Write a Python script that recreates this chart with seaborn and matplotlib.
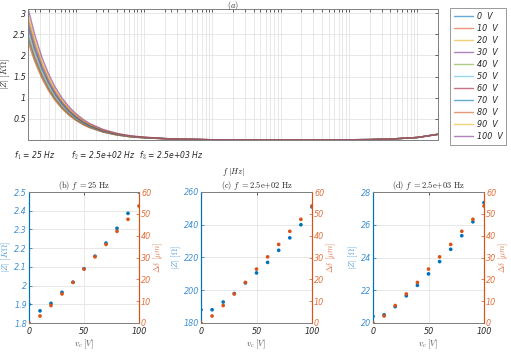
import numpy as np
import pandas as pd
import matplotlib
matplotlib.use("Agg")
import matplotlib.pyplot as plt
import seaborn as sns
from matplotlib.ticker import LogLocator, NullFormatter, FixedLocator, FuncFormatter
from matplotlib.lines import Line2D

sns.set_style("white")
plt.rcParams['font.family'] = ['DejaVu Sans']
plt.rcParams['mathtext.fontset'] = 'cm'

# ---------------- data ----------------
voltages = [0, 10, 20, 30, 40, 50, 60, 70, 80, 90, 100]
legend_labels = ["0  V", "10  V", "20  V", "30  V", "40  V", "50  V",
                 "60  V", "70  V", "80  V", "90  V", "100  V"]

freq_hz = [20, 25, 32, 40, 50, 63, 80, 100, 130, 160, 250, 400, 630, 1000, 2500,
           10000, 1e5, 1e6, 2e6, 4e6, 1e7, 2e7]
# |Z| in kOhm (low-frequency part, per voltage)
z_0V = [2.375, 1.900, 1.484, 1.188, 0.950, 0.754, 0.594, 0.475, 0.365, 0.297, 0.188, 0.118, 0.075, 0.051, 0.0204, 0.005]
z_10V = [2.331, 1.865, 1.457, 1.166, 0.933, 0.740, 0.583, 0.466, 0.358, 0.291, 0.188, 0.118, 0.075, 0.051, 0.0205, 0.005]
z_20V = [2.381, 1.905, 1.488, 1.191, 0.953, 0.756, 0.595, 0.476, 0.366, 0.297, 0.193, 0.121, 0.077, 0.053, 0.0210, 0.005]
z_30V = [2.455, 1.964, 1.534, 1.228, 0.982, 0.780, 0.614, 0.491, 0.377, 0.306, 0.198, 0.124, 0.079, 0.054, 0.0217, 0.005]
z_40V = [2.523, 2.018, 1.576, 1.261, 1.009, 0.801, 0.631, 0.505, 0.387, 0.315, 0.2045, 0.128, 0.081, 0.056, 0.0223, 0.006]
z_50V = [2.613, 2.090, 1.632, 1.306, 1.045, 0.830, 0.653, 0.523, 0.401, 0.326, 0.2106, 0.132, 0.084, 0.058, 0.0230, 0.006]
z_60V = [2.696, 2.157, 1.685, 1.348, 1.079, 0.856, 0.674, 0.539, 0.414, 0.336, 0.217, 0.136, 0.086, 0.059, 0.0238, 0.006]
z_70V = [2.784, 2.227, 1.739, 1.392, 1.114, 0.884, 0.696, 0.557, 0.428, 0.347, 0.2244, 0.140, 0.089, 0.061, 0.0245, 0.006]
z_80V = [2.883, 2.306, 1.801, 1.441, 1.153, 0.915, 0.721, 0.577, 0.443, 0.360, 0.232, 0.145, 0.092, 0.063, 0.0253, 0.006]
z_90V = [2.983, 2.386, 1.863, 1.491, 1.193, 0.947, 0.746, 0.597, 0.458, 0.372, 0.240, 0.150, 0.095, 0.065, 0.0262, 0.007]
z_100V = [3.125, 2.500, 1.953, 1.563, 1.250, 0.993, 0.781, 0.625, 0.480, 0.390, 0.2509, 0.157, 0.100, 0.068, 0.0274, 0.007]
# common high-frequency tail (1e5 ... 2e7 Hz), kOhm
z_tail = [0.003, 0.006, 0.010, 0.022, 0.060, 0.135]

curves = [z_0V, z_10V, z_20V, z_30V, z_40V, z_50V, z_60V, z_70V, z_80V, z_90V, z_100V]

# panel values
z_25hz_kohm = [1.900, 1.865, 1.905, 1.964, 2.018, 2.090, 2.157, 2.227, 2.306, 2.386, 2.500]
z_250hz_ohm = [188.1, 188.1, 192.8, 198.0, 204.5, 210.6, 217.0, 224.4, 232.0, 240.0, 250.9]
z_2500hz_ohm = [20.4, 20.5, 21.0, 21.66, 22.3, 23.0, 23.75, 24.5, 25.33, 26.18, 27.35]
delta_um = [0.0, 3.2, 8.0, 13.3, 18.6, 24.7, 30.3, 36.0, 42.0, 47.5, 53.6]

ftick_vals = [25, 250, 2500]
ftick_labels = ["f$_1$ = 25 Hz", "f$_2$ = 2.5e+02 Hz", "f$_3$ = 2.5e+03 Hz"]

# ---------------- styling ----------------
mcolors = ['#0072BD', '#D95319', '#EDB120', '#7E2F8E', '#77AC30', '#4DBEEE', '#A2142F']
palette = [mcolors[i % 7] for i in range(11)]
BLUE = '#0072BD'
ORANGE = '#D95319'
AXC = '#262626'
GRIDC = '#e4e4e4'
FS = 5.8
LFS = 6.0

rows = []
for lab, zc in zip(legend_labels, curves):
    for f, z in zip(freq_hz, list(zc) + z_tail):
        rows.append((lab, f, z))
df = pd.DataFrame(rows, columns=["label", "f", "z"])

W, H = 511, 357
fig = plt.figure(figsize=(W / 100, H / 100), dpi=100)

def fa(l, t, r, b):
    return [l / W, 1 - b / H, (r - l) / W, (b - t) / H]

# ---------------- top panel ----------------
ax = fig.add_axes(fa(28, 9, 438, 140))
sns.lineplot(data=df, x="f", y="z", hue="label", hue_order=legend_labels,
             palette=palette, ax=ax, legend=False, linewidth=1.0, alpha=0.6,
             estimator=None, sort=False)
ax.set_xscale("log")
ax.set_xlim(20, 2e7)
ax.set_ylim(0, 3.1)
ax.xaxis.set_major_locator(FixedLocator(ftick_vals))
ax.set_xticklabels(ftick_labels, fontsize=5.5, style='italic', color=AXC)
ax.xaxis.set_minor_locator(LogLocator(base=10, subs=np.arange(1, 10), numticks=30))
ax.xaxis.set_minor_formatter(NullFormatter())
ax.set_yticks([0.5, 1, 1.5, 2, 2.5, 3])
ax.yaxis.set_major_formatter(FuncFormatter(lambda v, p: f"{v:g}"))
for t in ax.get_yticklabels():
    t.set_fontsize(FS); t.set_style('italic'); t.set_color(AXC)
ax.grid(True, which='minor', axis='x', color=GRIDC, lw=0.6)
ax.grid(True, which='major', axis='y', color=GRIDC, lw=0.6)
ax.grid(False, which='major', axis='x')
ax.tick_params(axis='both', which='both', direction='in', top=True, right=True,
               length=2.5, width=0.5, colors=AXC, pad=1.5)
ax.tick_params(axis='x', which='major', pad=7)
for s in ax.spines.values():
    s.set_color('#808080'); s.set_linewidth(0.7)
ax.set_xlabel(r"$f\ |Hz|$", fontsize=LFS, color=AXC, labelpad=3)
ax.set_ylabel(r"$|Z|\ [K\Omega]$", fontsize=LFS, color=AXC, labelpad=0.5)
ax.set_title(r"$(a)$", fontsize=LFS, color=AXC, pad=1)

handles = [Line2D([0], [0], color=c, lw=1.0, alpha=0.6) for c in palette]
leg = fig.legend(handles, legend_labels, loc='upper left',
                 bbox_to_anchor=(450 / W, 1 - 8 / H), bbox_transform=fig.transFigure,
                 prop={'size': 5.8, 'style': 'italic'}, frameon=True, fancybox=False,
                 handlelength=2.4, handletextpad=0.5, labelspacing=0.38,
                 borderpad=0.45, borderaxespad=0)
leg.get_frame().set_edgecolor('#808080')
leg.get_frame().set_linewidth(0.7)

# ---------------- bottom panels ----------------
panels = [
    (fa(29, 192, 139, 323), z_25hz_kohm, (1.8, 2.5), np.arange(1.8, 2.51, 0.1),
     r"$|Z|\ [K\Omega]$", r"$\mathrm{(b)}\ f\ \mathrm{=25\ Hz}$"),
    (fa(201, 192, 312, 323), z_250hz_ohm, (180, 260), np.arange(180, 261, 20),
     r"$|Z|\ [\Omega]$", r"$\mathrm{(c)}\ f\ \mathrm{=2.5e{+}02\ Hz}$"),
    (fa(373, 192, 484, 323), z_2500hz_ohm, (20, 28), np.arange(20, 28.1, 2),
     r"$|Z|\ [\Omega]$", r"$\mathrm{(d)}\ f\ \mathrm{=2.5e{+}03\ Hz}$"),
]

for rect, zvals, ylim, yt, ylab, title in panels:
    a = fig.add_axes(rect)
    pdf = pd.DataFrame({"v": voltages, "z": zvals, "d": delta_um})
    sns.scatterplot(data=pdf, x="v", y="z", ax=a, color=BLUE, s=7,
                    edgecolor='none', legend=False, zorder=3)
    a.set_xlim(0, 100)
    a.set_ylim(*ylim)
    a.set_xticks([0, 50, 100])
    a.set_yticks(yt)
    a.yaxis.set_major_formatter(FuncFormatter(lambda v, p: f"{round(v, 3):g}"))
    a.grid(True, color=GRIDC, lw=0.6)
    a.tick_params(axis='y', colors=BLUE, labelsize=FS, direction='in', length=2.5,
                  width=0.5, pad=1.5)
    a.tick_params(axis='x', colors=AXC, labelsize=FS, direction='in', length=2.5,
                  width=0.5, top=True, pad=3)
    for t in a.get_yticklabels():
        t.set_style('italic'); t.set_color('#3d8fd0')
    for t in a.get_xticklabels():
        t.set_style('italic')
    a.set_xlabel(r"$v_c\ [V]$", fontsize=LFS, color='#555555', labelpad=1)
    a.set_ylabel(ylab, fontsize=LFS, color='#4d9ad6', labelpad=0.5)
    a.set_title(title, fontsize=LFS, color=AXC, pad=2)

    a2 = a.twinx()
    sns.scatterplot(data=pdf, x="v", y="d", ax=a2, color=ORANGE, s=7,
                    edgecolor='none', legend=False, zorder=4)
    a2.set_ylim(0, 60)
    a2.set_yticks(np.arange(0, 61, 10))
    a2.tick_params(axis='y', colors=ORANGE, labelsize=FS, direction='in', length=2.5,
                   width=0.5, pad=1.5)
    for t in a2.get_yticklabels():
        t.set_style('italic'); t.set_color('#e0703c')
    a2.set_ylabel(r"$\Delta\delta\ [\mu m]$", fontsize=LFS, color='#e07a50', labelpad=0.5)
    a2.grid(False)
    for s in ['top', 'bottom']:
        a2.spines[s].set_color('#808080'); a2.spines[s].set_linewidth(0.7)
        a.spines[s].set_color('#808080'); a.spines[s].set_linewidth(0.7)
    a2.spines['left'].set_color(BLUE); a2.spines['left'].set_linewidth(0.8)
    a2.spines['right'].set_color(ORANGE); a2.spines['right'].set_linewidth(0.8)
    a.spines['left'].set_color(BLUE)
    a.spines['right'].set_color(ORANGE)

fig.savefig("out.png", dpi=100)
